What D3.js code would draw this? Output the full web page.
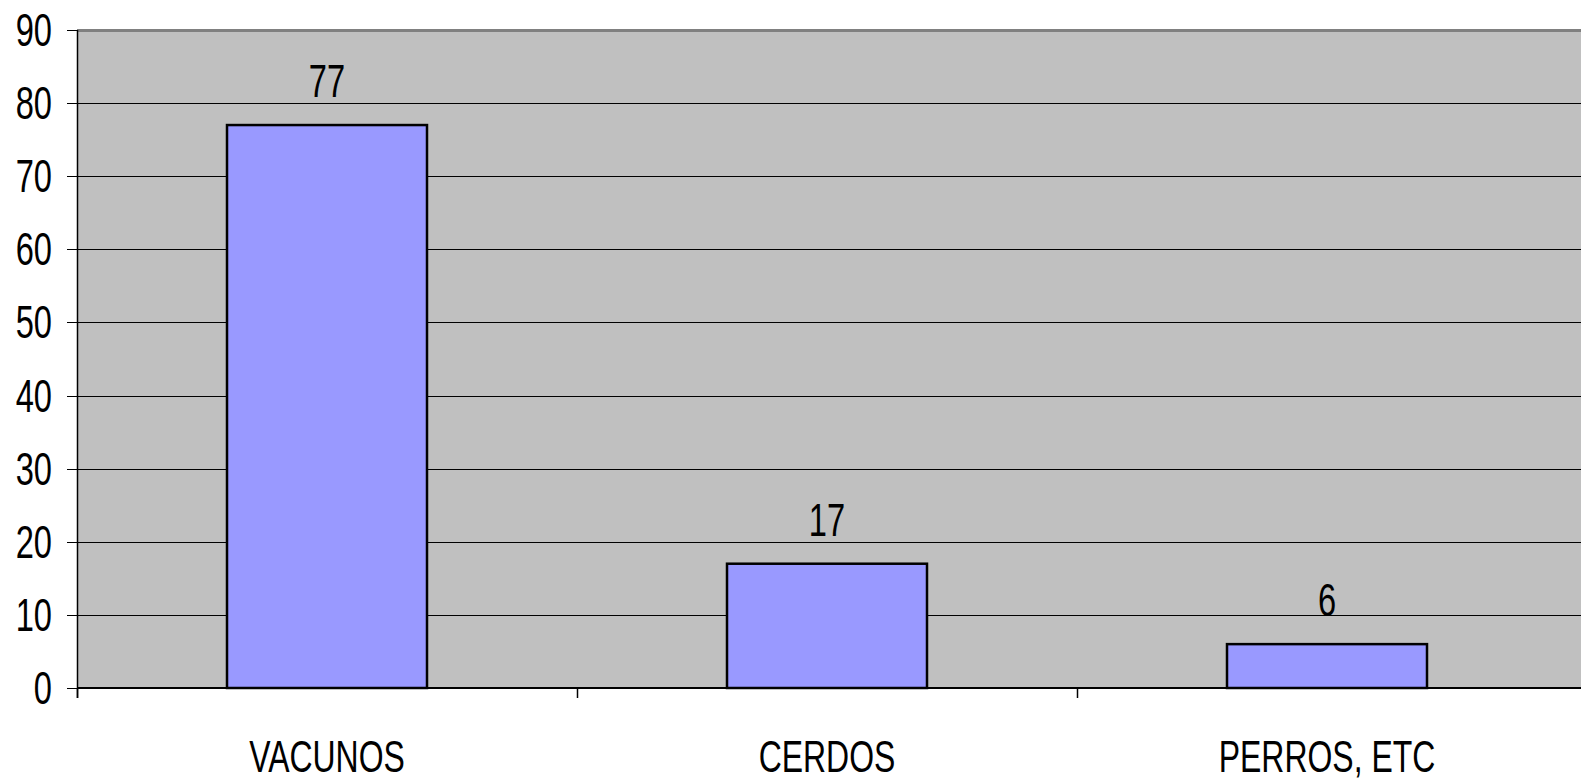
<!DOCTYPE html>
<html>
<head>
<meta charset="utf-8">
<script src="https://cdn.jsdelivr.net/npm/d3@7"></script>
<style>
  html, body { margin: 0; padding: 0; background: #fff; overflow: hidden; }
  svg { display: block; }
  svg text { font-family: "Liberation Sans", Arial, sans-serif; fill: #000; }
</style>
</head>
<body>
<svg id="chart" width="1581" height="782"></svg>
<script>
// Data
const categories = ['VACUNOS', 'CERDOS', 'PERROS, ETC'];
const values = [77, 17, 6];
const yTicks = [0, 10, 20, 30, 40, 50, 60, 70, 80, 90];

const svg = d3.select('#chart');
const plotLeft = 77, plotRight = 1577, plotTop = 30, plotBottom = 688;
const narrow = 0.71; // squeeze text to look like Arial Narrow

const x = d3.scaleBand().domain(categories).range([plotLeft, plotRight]).paddingInner(0.6).paddingOuter(0.3);
const xb = d3.scaleBand().domain(categories).range([plotLeft, plotRight]);
const y = d3.scaleLinear().domain([0, 90]).range([plotBottom, plotTop]);

// narrow text helper
function narrowText(sel, anchor, size) {
    sel.append('text')
        .attr('transform', `scale(${narrow},1)`)
        .attr('text-anchor', anchor)
        .style('font-size', size + 'px')
        .text(d => d.label);
}

// Plot background
svg.append('rect')
    .attr('x', plotLeft).attr('y', plotTop)
    .attr('width', 1581 - plotLeft).attr('height', plotBottom - plotTop)
    .attr('fill', '#c0c0c0');
svg.append('line')
    .attr('x1', plotLeft).attr('x2', 1581).attr('y1', plotTop + 0.5).attr('y2', plotTop + 0.5)
    .attr('stroke', '#808080').attr('stroke-width', 3);

// Gridlines
svg.append('g').selectAll('line')
    .data(yTicks.filter(d => d > 0 && d < 90))
    .enter().append('line')
    .attr('x1', plotLeft).attr('x2', 1581)
    .attr('y1', d => Math.round(y(d)) + 0.5).attr('y2', d => Math.round(y(d)) + 0.5)
    .attr('stroke', '#000').attr('stroke-width', 1);

// Bars
svg.append('g').selectAll('rect')
    .data(values)
    .enter().append('rect')
    .attr('x', (d, i) => x(categories[i]))
    .attr('y', d => y(d))
    .attr('width', x.bandwidth())
    .attr('height', d => plotBottom - y(d))
    .attr('fill', '#9999ff')
    .attr('stroke', '#000').attr('stroke-width', 2.5);

// Value labels
svg.append('g').selectAll('g')
    .data(values.map((v, i) => ({ label: v, cat: categories[i], v: v })))
    .enter().append('g')
    .attr('transform', d => `translate(${x(d.cat) + x.bandwidth() / 2},${y(d.v) - 28})`)
    .call(narrowText, 'middle', 46);

// Y axis
svg.append('line')
    .attr('x1', plotLeft + 0.5).attr('x2', plotLeft + 0.5)
    .attr('y1', plotTop).attr('y2', plotBottom + 10)
    .attr('stroke', '#000').attr('stroke-width', 1.5);
svg.append('g').selectAll('line')
    .data(yTicks)
    .enter().append('line')
    .attr('x1', plotLeft - 10).attr('x2', plotLeft)
    .attr('y1', d => Math.round(y(d)) + 0.5).attr('y2', d => Math.round(y(d)) + 0.5)
    .attr('stroke', '#000').attr('stroke-width', 1);
svg.append('g').selectAll('g')
    .data(yTicks.map(t => ({ label: t, v: t })))
    .enter().append('g')
    .attr('transform', d => `translate(52,${y(d.v) + 16})`)
    .call(narrowText, 'end', 46);

// X axis
svg.append('line')
    .attr('x1', plotLeft).attr('x2', 1581).attr('y1', plotBottom).attr('y2', plotBottom)
    .attr('stroke', '#000').attr('stroke-width', 2);
svg.append('g').selectAll('line')
    .data(categories)
    .enter().append('line')
    .attr('x1', d => xb(d) + 0.5).attr('x2', d => xb(d) + 0.5)
    .attr('y1', plotBottom).attr('y2', plotBottom + 10)
    .attr('stroke', '#000').attr('stroke-width', 1.5);
svg.append('g').selectAll('g')
    .data(categories.map(c => ({ label: c, cat: c })))
    .enter().append('g')
    .attr('transform', d => `translate(${xb(d.cat) + xb.bandwidth() / 2},772)`)
    .call(narrowText, 'middle', 45);
</script>
</body>
</html>
